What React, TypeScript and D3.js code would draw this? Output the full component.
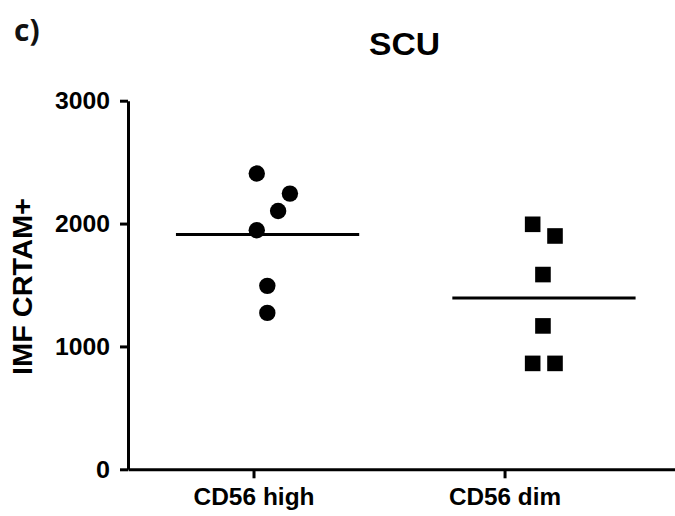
import React, { useRef, useEffect } from "react";
import * as d3 from "d3";

const categories = ["CD56 high", "CD56 dim"];
const yTicks = [0, 1000, 2000, 3000];

// CD56 high (circles)
const highValues = [2407, 2244, 2102, 1946, 1493, 1273];
const highPos = [1.013, 1.145, 1.098, 1.013, 1.055, 1.055];

// CD56 dim (squares)
const dimValues = [1994, 1899, 1585, 1167, 862, 862];
const dimPos = [2.112, 2.201, 2.153, 2.153, 2.112, 2.201];

const groupCenters = [1.056, 2.157];

export default function App() {
  const svgRef = useRef<SVGSVGElement>(null);

  useEffect(() => {
    const svg = d3.select(svgRef.current);
    svg.selectAll("*").remove();

    const width = 675;
    const height = 516;
    const font = "'Liberation Sans', Arial, sans-serif";

    const x = d3.scaleLinear().domain([0.5, 2.679]).range([128, width]);
    const y = d3.scaleLinear().domain([0, 3000]).range([469.3, 100.7]);

    // Axes
    const yAxis = svg
      .append("g")
      .attr("transform", `translate(${x(0.5)},0)`)
      .call(
        d3
          .axisLeft(y)
          .tickValues(yTicks)
          .tickSize(8)
          .tickSizeOuter(0)
          .tickPadding(10)
          .tickFormat(d3.format("d"))
      );
    yAxis.select(".domain").attr("stroke-width", 3);
    yAxis.selectAll(".tick line").attr("stroke-width", 3);
    yAxis
      .selectAll("text")
      .attr("font-family", font)
      .attr("font-weight", "bold")
      .attr("font-size", 23)
      .attr("fill", "#000")
      .attr("dy", "0.36em")
      .attr("textLength", (d: any) => (d === 0 ? 14 : 55))
      .attr("lengthAdjust", "spacingAndGlyphs");

    const xAxis = svg
      .append("g")
      .attr("transform", `translate(0,${y(0)})`)
      .call(
        d3
          .axisBottom(x)
          .tickValues([1, 2])
          .tickSize(9)
          .tickSizeOuter(0)
          .tickFormat((d, i) => categories[i])
      );
    xAxis.select(".domain").attr("stroke-width", 3);
    xAxis.selectAll(".tick line").attr("stroke-width", 3);
    xAxis
      .selectAll("text")
      .attr("font-family", font)
      .attr("font-weight", "bold")
      .attr("font-size", 23)
      .attr("fill", "#000")
      .attr("y", 36)
      .attr("dy", 0)
      .attr("textLength", (d, i) => (i === 0 ? 121 : 112))
      .attr("lengthAdjust", "spacingAndGlyphs");

    // Mean lines
    const means = [d3.mean(highValues)!, d3.mean(dimValues)!];
    svg
      .selectAll("line.mean")
      .data(means)
      .join("line")
      .attr("class", "mean")
      .attr("x1", (d, i) => x(groupCenters[i] - 0.365))
      .attr("x2", (d, i) => x(groupCenters[i] + 0.365))
      .attr("y1", (d) => y(d))
      .attr("y2", (d) => y(d))
      .attr("stroke", "#000")
      .attr("stroke-width", 3);

    // Points
    svg
      .selectAll("circle.pt")
      .data(highValues)
      .join("circle")
      .attr("class", "pt")
      .attr("cx", (d, i) => x(highPos[i]))
      .attr("cy", (d) => y(d))
      .attr("r", 8.2)
      .attr("fill", "#000");

    const s = 15.6;
    svg
      .selectAll("rect.pt")
      .data(dimValues)
      .join("rect")
      .attr("class", "pt")
      .attr("x", (d, i) => x(dimPos[i]) - s / 2)
      .attr("y", (d) => y(d) - s / 2)
      .attr("width", s)
      .attr("height", s)
      .attr("fill", "#000");

    // Y label
    svg
      .append("text")
      .attr("transform", `translate(32,286.5) rotate(-90)`)
      .attr("text-anchor", "middle")
      .attr("font-family", font)
      .attr("font-weight", "bold")
      .attr("font-size", 27)
      .attr("textLength", 177)
      .attr("lengthAdjust", "spacingAndGlyphs")
      .text("IMF CRTAM+");

    // Title
    svg
      .append("text")
      .attr("x", 404.5)
      .attr("y", 55)
      .attr("text-anchor", "middle")
      .attr("font-family", font)
      .attr("font-weight", "bold")
      .attr("font-size", 31)
      .attr("textLength", 71)
      .attr("lengthAdjust", "spacingAndGlyphs")
      .text("SCU");

    // Panel letter
    svg
      .append("text")
      .attr("x", 14)
      .attr("y", 41)
      .attr("font-family", "'Open Sans', 'Noto Sans', sans-serif")
      .attr("font-weight", "bold")
      .attr("font-size", 30)
      .attr("fill", "#111")
      .text("c)");
  }, []);

  return (
    <svg
      ref={svgRef}
      width={675}
      height={516}
      style={{ position: "absolute", left: 0, top: 0, background: "#fff" }}
    />
  );
}
